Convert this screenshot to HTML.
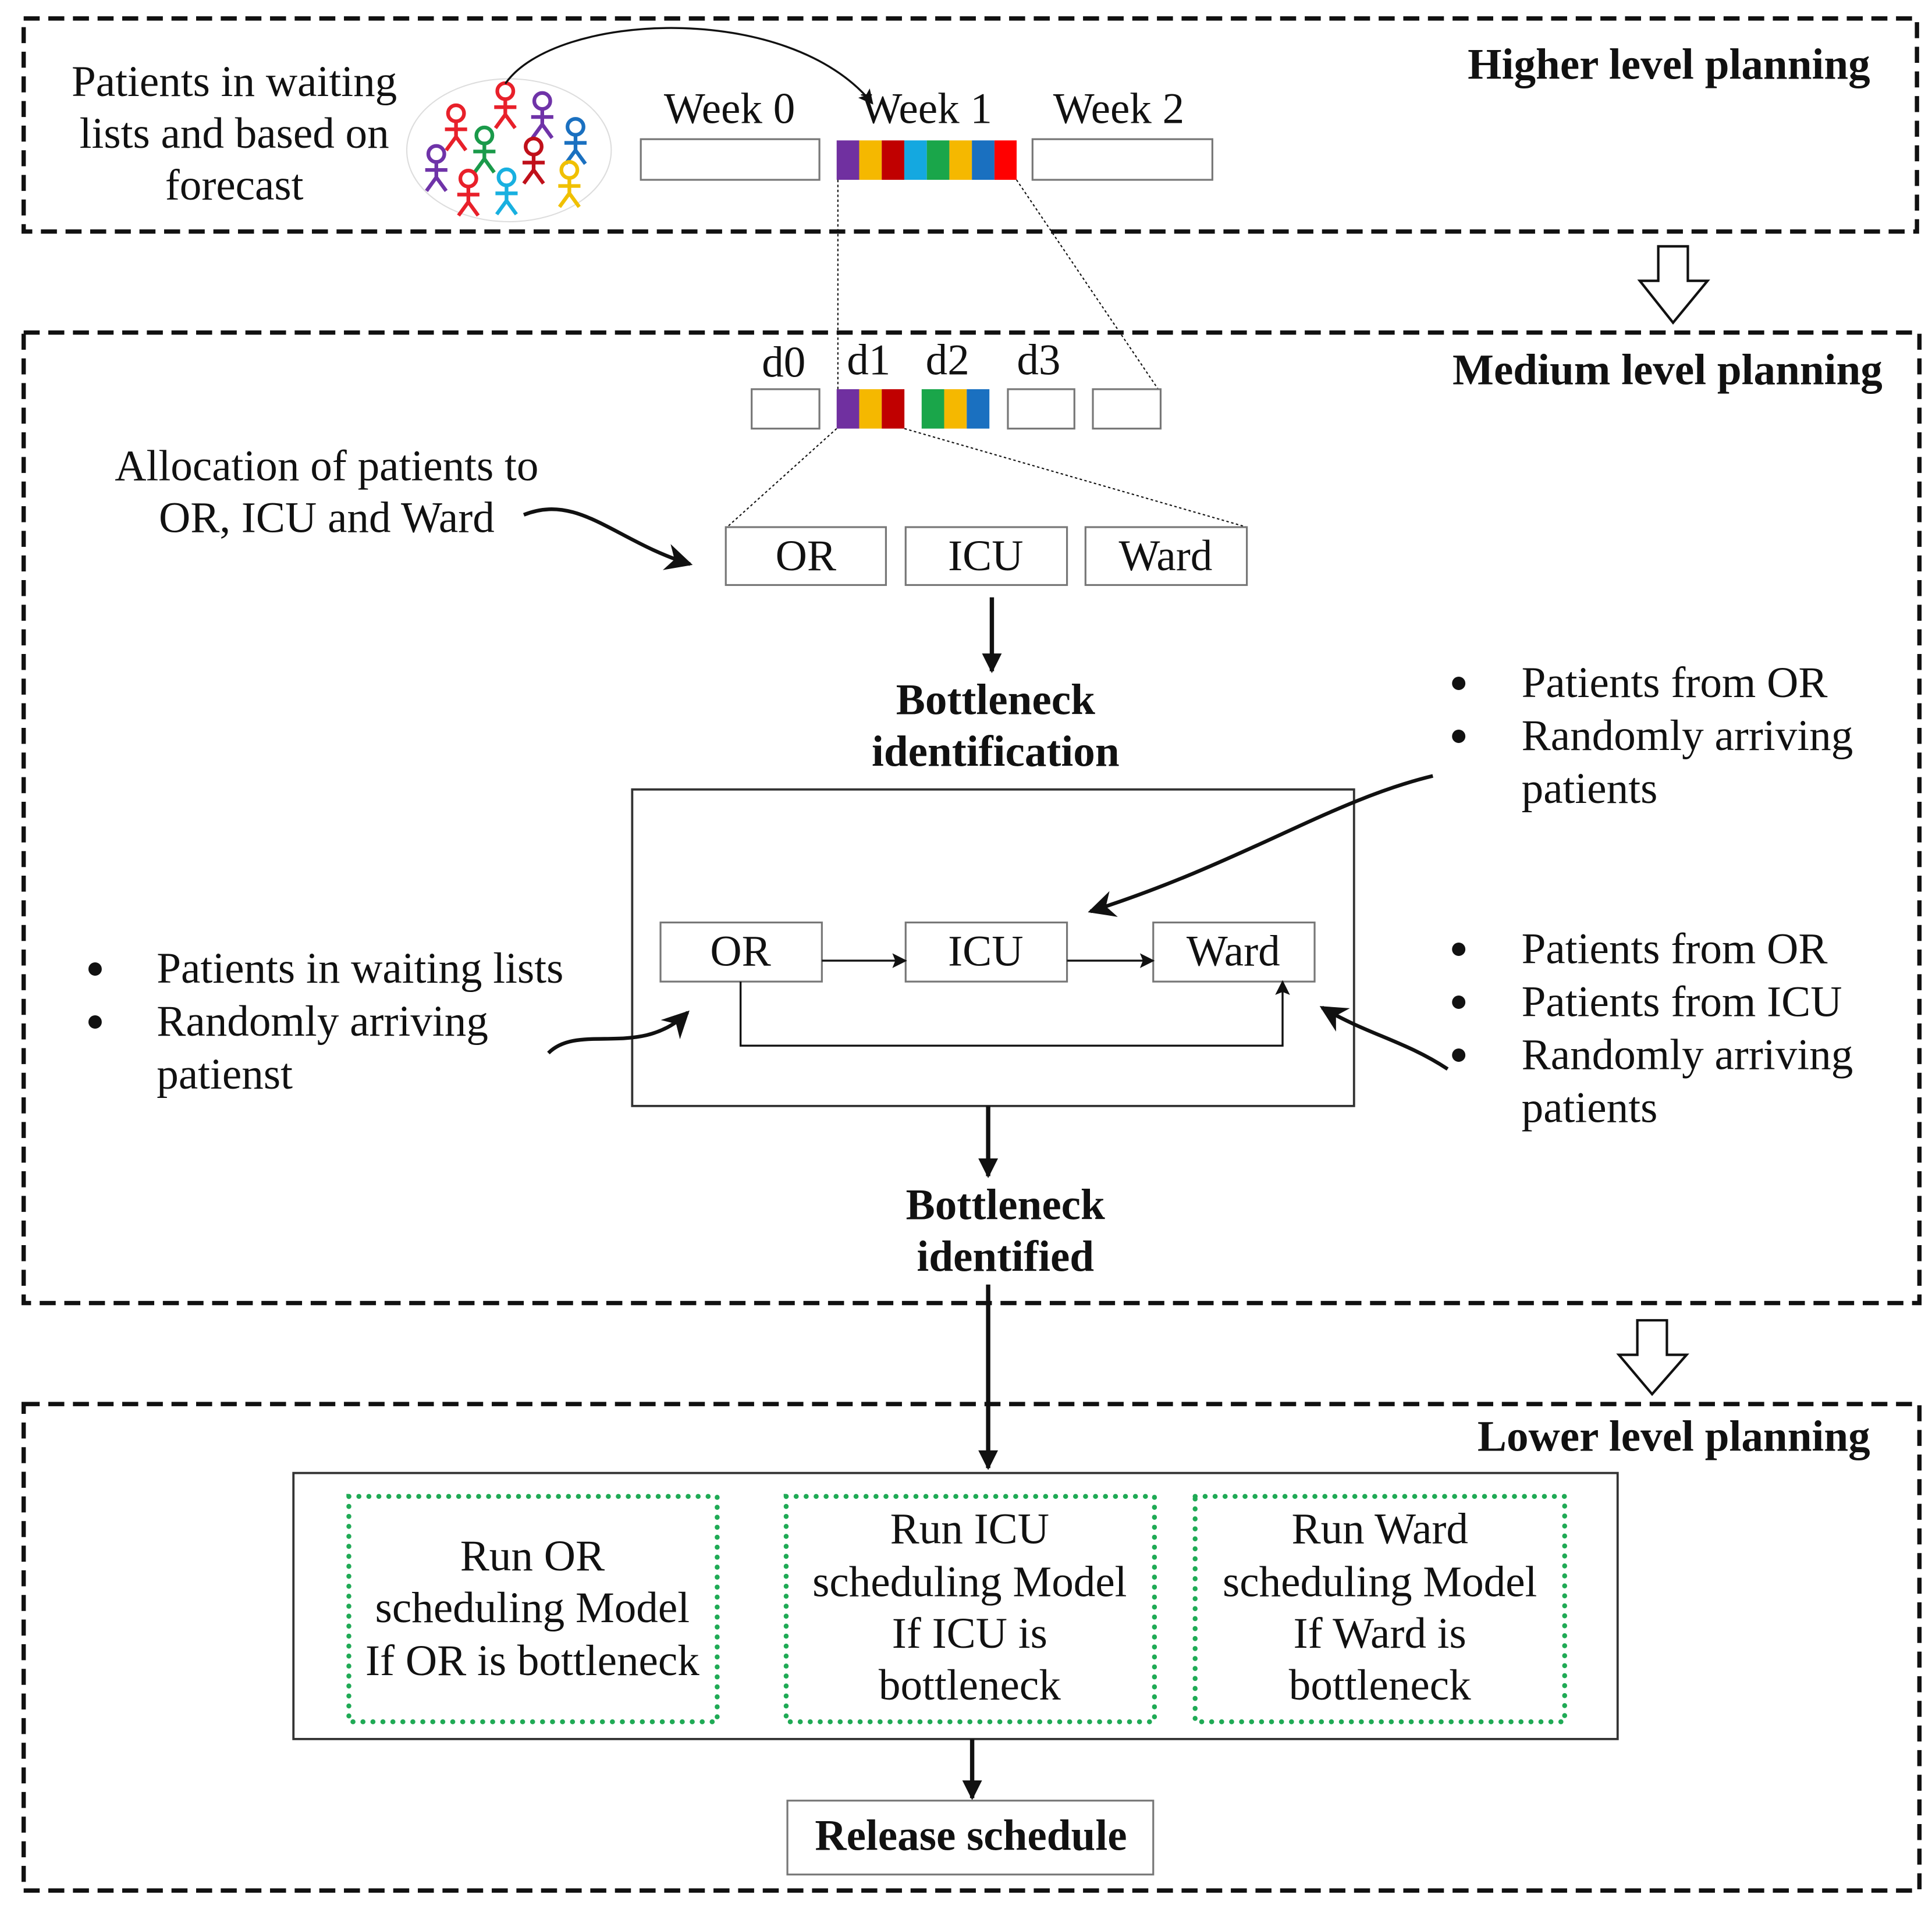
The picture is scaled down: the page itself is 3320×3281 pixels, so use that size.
<!DOCTYPE html>
<html><head><meta charset="utf-8"><style>
html,body{margin:0;padding:0;background:#fff;}
svg{display:block;}
text{font-family:"Liberation Serif",serif;fill:#111;}
.t{font-size:35.5px;}
.b{font-size:35.5px;font-weight:bold;}
.bu{font-size:40px;font-weight:bold;}
</style></head><body>
<svg width="3320" height="3281" viewBox="0 0 1568 1550" xmlns="http://www.w3.org/2000/svg">
<defs>
<marker id="ahb" viewBox="0 0 10 10" refX="9" refY="5" markerWidth="22" markerHeight="22" orient="auto" markerUnits="userSpaceOnUse"><path d="M0,0 L10,5 L0,10 L3,5 z" fill="#111"/></marker>
<marker id="ahs" viewBox="0 0 10 10" refX="9" refY="5" markerWidth="12" markerHeight="12" orient="auto" markerUnits="userSpaceOnUse"><path d="M0,0 L10,5 L0,10 L2,5 z" fill="#111"/></marker>
<marker id="ahd" viewBox="0 0 10 10" refX="9" refY="5" markerWidth="16" markerHeight="18" orient="auto" markerUnits="userSpaceOnUse"><path d="M0,0 L10,5 L0,10 z" fill="#111"/></marker>
<g id="fig" fill="none" stroke-width="3"><circle cx="0" cy="0" r="6.5"/><path d="M0,6.5 V19 M-9,13 H9 M-8,30 L0,19 L8,30"/></g>
</defs>

<rect x="19" y="15" width="1537" height="173" fill="none" stroke="#111" stroke-width="3.5" stroke-dasharray="13,7"/>
<text class="b" x="1518" y="64" text-anchor="end">Higher level planning</text>
<text class="t" x="190" y="78" text-anchor="middle">Patients in waiting</text>
<text class="t" x="190" y="120" text-anchor="middle">lists and based on</text>
<text class="t" x="190" y="162" text-anchor="middle">forecast</text>
<ellipse cx="413" cy="122" rx="83" ry="58" fill="none" stroke="#ddd" stroke-width="1"/>
<use href="#fig" x="410" y="74" stroke="#e8202a"/>
<use href="#fig" x="370" y="92" stroke="#e8202a"/>
<use href="#fig" x="440" y="82" stroke="#6f33a8"/>
<use href="#fig" x="393" y="110" stroke="#1a9a4a"/>
<use href="#fig" x="467" y="103" stroke="#1a70c0"/>
<use href="#fig" x="354" y="125" stroke="#6f33a8"/>
<use href="#fig" x="433" y="119" stroke="#c0101a"/>
<use href="#fig" x="380" y="145" stroke="#e8202a"/>
<use href="#fig" x="411" y="144" stroke="#18b0e0"/>
<use href="#fig" x="462" y="138" stroke="#f0c000"/>
<path d="M410,68 C450,10 640,0 708,84" fill="none" stroke="#111" stroke-width="1.6" marker-end="url(#ahs)"/>
<text class="t" x="592" y="100" text-anchor="middle">Week 0</text>
<text class="t" x="752" y="100" text-anchor="middle">Week 1</text>
<text class="t" x="908" y="100" text-anchor="middle">Week 2</text>
<rect x="520" y="113" width="145" height="33" fill="#fff" stroke="#777" stroke-width="1.5"/>
<rect x="838" y="113" width="146" height="33" fill="#fff" stroke="#777" stroke-width="1.5"/>
<rect x="679" y="114" width="18.3" height="32" fill="#7030a0"/>
<rect x="697.3" y="114" width="18.3" height="32" fill="#f5b800"/>
<rect x="715.6" y="114" width="18.3" height="32" fill="#c00000"/>
<rect x="733.9" y="114" width="18.3" height="32" fill="#14a8e0"/>
<rect x="752.2" y="114" width="18.3" height="32" fill="#1aa64a"/>
<rect x="770.5" y="114" width="18.3" height="32" fill="#f5b800"/>
<rect x="788.8" y="114" width="18.3" height="32" fill="#1a70c0"/>
<rect x="807.1" y="114" width="18" height="32" fill="#ff0000"/>

<path d="M1346,200 H1370 V228 H1386 L1358,262 L1331,228 H1346 Z" fill="#fff" stroke="#111" stroke-width="2"/>

<rect x="19" y="270" width="1539" height="788" fill="none" stroke="#111" stroke-width="3.5" stroke-dasharray="13,7"/>
<text class="b" x="1528" y="312" text-anchor="end">Medium level planning</text>
<line x1="680" y1="146" x2="680" y2="316" stroke="#111" stroke-width="1" stroke-dasharray="2,2"/>
<line x1="825" y1="146" x2="940" y2="316" stroke="#111" stroke-width="1" stroke-dasharray="2,2"/>
<text class="t" x="636" y="306" text-anchor="middle">d0</text>
<text class="t" x="705" y="304" text-anchor="middle">d1</text>
<text class="t" x="769" y="304" text-anchor="middle">d2</text>
<text class="t" x="843" y="304" text-anchor="middle">d3</text>
<rect x="610" y="316" width="55" height="32" fill="#fff" stroke="#777" stroke-width="1.5"/>
<rect x="818" y="316" width="54" height="32" fill="#fff" stroke="#777" stroke-width="1.5"/>
<rect x="887" y="316" width="55" height="32" fill="#fff" stroke="#777" stroke-width="1.5"/>
<rect x="679" y="316" width="18.3" height="32" fill="#7030a0"/>
<rect x="697.3" y="316" width="18.3" height="32" fill="#f5b800"/>
<rect x="715.6" y="316" width="18.4" height="32" fill="#c00000"/>
<rect x="748" y="316" width="18.3" height="32" fill="#1aa64a"/>
<rect x="766.3" y="316" width="18.3" height="32" fill="#f5b800"/>
<rect x="784.6" y="316" width="18.4" height="32" fill="#1a70c0"/>
<line x1="679" y1="348" x2="590" y2="428" stroke="#111" stroke-width="1" stroke-dasharray="2,2"/>
<line x1="734" y1="348" x2="1012" y2="428" stroke="#111" stroke-width="1" stroke-dasharray="2,2"/>
<text class="t" x="265" y="390" text-anchor="middle">Allocation of patients to</text>
<text class="t" x="265" y="432" text-anchor="middle">OR, ICU and Ward</text>
<path d="M425,418 C470,400 500,440 560,458" fill="none" stroke="#111" stroke-width="3" marker-end="url(#ahb)"/>
<rect x="589" y="428" width="130" height="47" fill="#fff" stroke="#777" stroke-width="1.5"/>
<rect x="735" y="428" width="131" height="47" fill="#fff" stroke="#777" stroke-width="1.5"/>
<rect x="881" y="428" width="131" height="47" fill="#fff" stroke="#777" stroke-width="1.5"/>
<text class="t" x="654" y="463" text-anchor="middle">OR</text>
<text class="t" x="800" y="463" text-anchor="middle">ICU</text>
<text class="t" x="946" y="463" text-anchor="middle">Ward</text>
<line x1="805" y1="485" x2="805" y2="545" stroke="#111" stroke-width="3.5" marker-end="url(#ahd)"/>
<text class="b" x="808" y="580" text-anchor="middle">Bottleneck</text>
<text class="b" x="808" y="622" text-anchor="middle">identification</text>
<rect x="513" y="641" width="586" height="257" fill="none" stroke="#333" stroke-width="1.8"/>
<rect x="536" y="749" width="131" height="48" fill="#fff" stroke="#777" stroke-width="1.5"/>
<rect x="735" y="749" width="131" height="48" fill="#fff" stroke="#777" stroke-width="1.5"/>
<rect x="936" y="749" width="131" height="48" fill="#fff" stroke="#777" stroke-width="1.5"/>
<text class="t" x="601" y="784" text-anchor="middle">OR</text>
<text class="t" x="800" y="784" text-anchor="middle">ICU</text>
<text class="t" x="1001" y="784" text-anchor="middle">Ward</text>
<line x1="667" y1="780" x2="735" y2="780" stroke="#111" stroke-width="1.6" marker-end="url(#ahs)"/>
<line x1="866" y1="780" x2="936" y2="780" stroke="#111" stroke-width="1.6" marker-end="url(#ahs)"/>
<path d="M601,797 V849 H1041 V797" fill="none" stroke="#111" stroke-width="1.6" marker-end="url(#ahs)"/>
<path d="M1163,630 C1080,650 1010,700 885,740" fill="none" stroke="#111" stroke-width="3" marker-end="url(#ahb)"/>
<path d="M445,855 C470,830 520,860 558,822" fill="none" stroke="#111" stroke-width="3" marker-end="url(#ahb)"/>
<path d="M1175,868 C1140,845 1110,840 1073,818" fill="none" stroke="#111" stroke-width="3" marker-end="url(#ahb)"/>
<text class="bu" x="1184" y="568" text-anchor="middle">•</text>
<text class="bu" x="1184" y="611" text-anchor="middle">•</text>
<text class="t" x="1235" y="566">Patients from OR</text>
<text class="t" x="1235" y="609">Randomly arriving</text>
<text class="t" x="1235" y="652">patients</text>
<text class="bu" x="77" y="800" text-anchor="middle">•</text>
<text class="bu" x="77" y="843" text-anchor="middle">•</text>
<text class="t" x="127" y="798">Patients in waiting lists</text>
<text class="t" x="127" y="841">Randomly arriving</text>
<text class="t" x="127" y="884">patienst</text>
<text class="bu" x="1184" y="784" text-anchor="middle">•</text>
<text class="bu" x="1184" y="827" text-anchor="middle">•</text>
<text class="bu" x="1184" y="870" text-anchor="middle">•</text>
<text class="t" x="1235" y="782">Patients from OR</text>
<text class="t" x="1235" y="825">Patients from ICU</text>
<text class="t" x="1235" y="868">Randomly arriving</text>
<text class="t" x="1235" y="911">patients</text>
<line x1="802" y1="898" x2="802" y2="955" stroke="#111" stroke-width="3.5" marker-end="url(#ahd)"/>
<text class="b" x="816" y="990" text-anchor="middle">Bottleneck</text>
<text class="b" x="816" y="1032" text-anchor="middle">identified</text>
<line x1="802" y1="1043" x2="802" y2="1192" stroke="#111" stroke-width="3.5" marker-end="url(#ahd)"/>

<path d="M1329,1072 H1353 V1100 H1369 L1341,1132 L1314,1100 H1329 Z" fill="#fff" stroke="#111" stroke-width="2"/>

<rect x="19" y="1140" width="1539" height="395" fill="none" stroke="#111" stroke-width="3.5" stroke-dasharray="13,7"/>
<text class="b" x="1518" y="1178" text-anchor="end">Lower level planning</text>
<rect x="238" y="1196" width="1075" height="216" fill="none" stroke="#333" stroke-width="1.8"/>
<g fill="none" stroke="#1faa55" stroke-width="4" stroke-dasharray="0.1,8" stroke-linecap="round">
<rect x="283" y="1215" width="299" height="183"/>
<rect x="638" y="1215" width="299" height="183"/>
<rect x="970" y="1215" width="300" height="183"/>
</g>
<text class="t" x="432" y="1275" text-anchor="middle">Run OR</text>
<text class="t" x="432" y="1317" text-anchor="middle">scheduling Model</text>
<text class="t" x="432" y="1360" text-anchor="middle">If OR is bottleneck</text>
<text class="t" x="787" y="1253" text-anchor="middle">Run ICU</text>
<text class="t" x="787" y="1296" text-anchor="middle">scheduling Model</text>
<text class="t" x="787" y="1338" text-anchor="middle">If ICU is</text>
<text class="t" x="787" y="1380" text-anchor="middle">bottleneck</text>
<text class="t" x="1120" y="1253" text-anchor="middle">Run Ward</text>
<text class="t" x="1120" y="1296" text-anchor="middle">scheduling Model</text>
<text class="t" x="1120" y="1338" text-anchor="middle">If Ward is</text>
<text class="t" x="1120" y="1380" text-anchor="middle">bottleneck</text>
<line x1="789" y1="1412" x2="789" y2="1460" stroke="#111" stroke-width="3.5" marker-end="url(#ahd)"/>
<rect x="639" y="1462" width="297" height="60" fill="#fff" stroke="#777" stroke-width="1.5"/>
<text class="b" x="788" y="1502" text-anchor="middle">Release schedule</text>
</svg>
</body></html>
